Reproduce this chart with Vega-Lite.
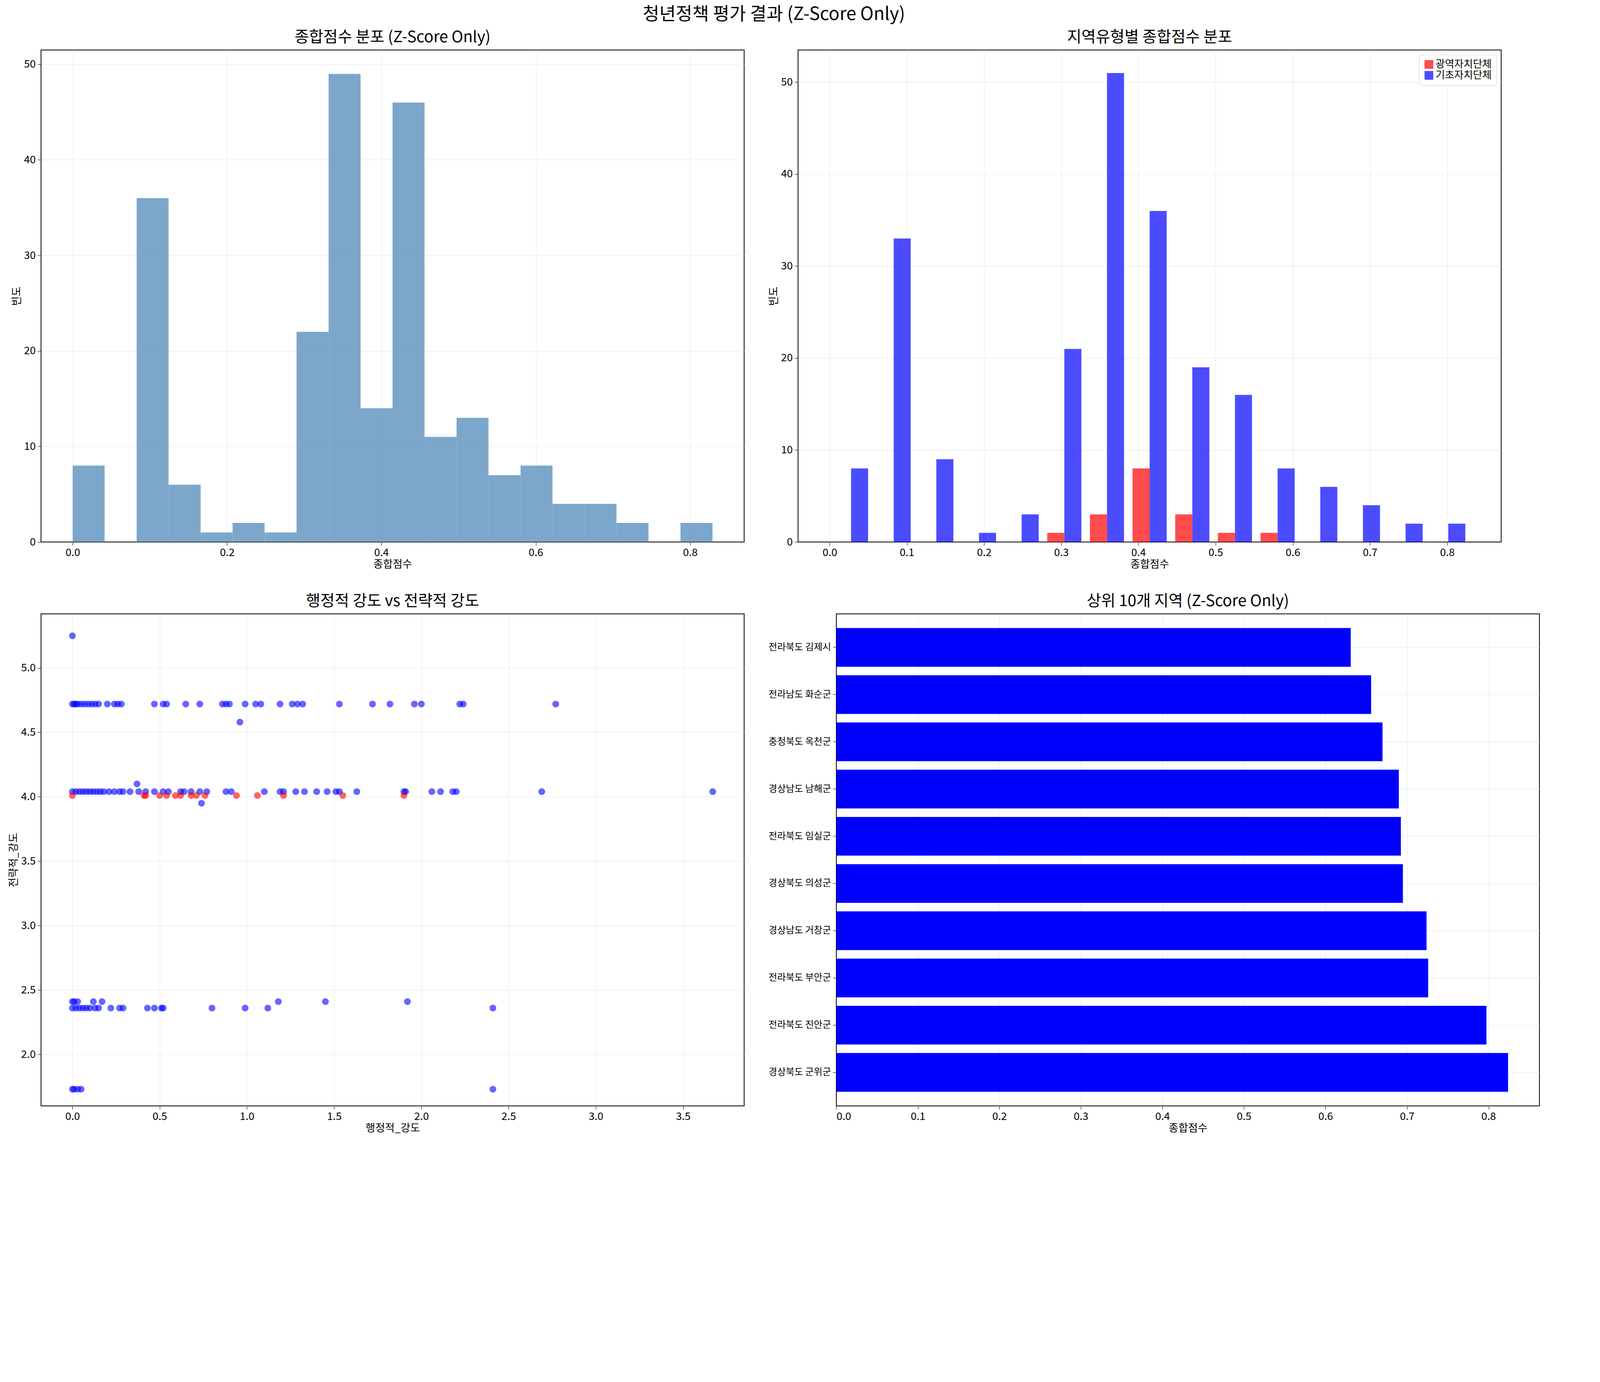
{
  "$schema": "https://vega.github.io/schema/vega-lite/v6.json",
  "background": "white",
  "padding": {"left": 20, "top": 14, "right": 20, "bottom": 20},
  "title": {"text": "청년정책 평가 결과 (Z-Score Only)", "fontSize": 46, "font": "Noto Sans CJK KR", "fontWeight": "normal", "anchor": "middle", "offset": 14},
  "config": {
    "font": "Noto Sans CJK KR",
    "axis": {"labelFontSize": 27, "titleFontSize": 27, "titleFontWeight": "normal", "gridColor": "#e6e6e6", "domainColor": "black", "tickColor": "black", "labelColor": "black", "titleColor": "black", "tickSize": 9, "labelPadding": 5, "labelLimit": 0},
    "title": {"fontSize": 40, "fontWeight": "normal", "offset": 12},
    "view": {"stroke": "black", "strokeWidth": 2},
    "concat": {"spacing": 60}
  },
  "datasets": {
    "hist": [
      {"s": 0.0, "e": 0.0414, "n": 8}, {"s": 0.0414, "e": 0.0829, "n": 0}, {"s": 0.0829, "e": 0.1243, "n": 36},
      {"s": 0.1243, "e": 0.1658, "n": 6}, {"s": 0.1658, "e": 0.2072, "n": 1}, {"s": 0.2072, "e": 0.2487, "n": 2},
      {"s": 0.2487, "e": 0.2901, "n": 1}, {"s": 0.2901, "e": 0.3316, "n": 22}, {"s": 0.3316, "e": 0.373, "n": 49},
      {"s": 0.373, "e": 0.4145, "n": 14}, {"s": 0.4145, "e": 0.4559, "n": 46}, {"s": 0.4559, "e": 0.4974, "n": 11},
      {"s": 0.4974, "e": 0.5388, "n": 13}, {"s": 0.5388, "e": 0.5803, "n": 7}, {"s": 0.5803, "e": 0.6217, "n": 8},
      {"s": 0.6217, "e": 0.6632, "n": 4}, {"s": 0.6632, "e": 0.7046, "n": 4}, {"s": 0.7046, "e": 0.7461, "n": 2},
      {"s": 0.7461, "e": 0.7875, "n": 0}, {"s": 0.7875, "e": 0.829, "n": 2}
    ],
    "group": [
      {"bin": 0, "t": "기초자치단체", "n": 8}, {"bin": 1, "t": "기초자치단체", "n": 33}, {"bin": 2, "t": "기초자치단체", "n": 9},
      {"bin": 3, "t": "기초자치단체", "n": 1}, {"bin": 4, "t": "기초자치단체", "n": 3}, {"bin": 5, "t": "기초자치단체", "n": 21},
      {"bin": 6, "t": "기초자치단체", "n": 51}, {"bin": 7, "t": "기초자치단체", "n": 36}, {"bin": 8, "t": "기초자치단체", "n": 19},
      {"bin": 9, "t": "기초자치단체", "n": 16}, {"bin": 10, "t": "기초자치단체", "n": 8}, {"bin": 11, "t": "기초자치단체", "n": 6},
      {"bin": 12, "t": "기초자치단체", "n": 4}, {"bin": 13, "t": "기초자치단체", "n": 2}, {"bin": 14, "t": "기초자치단체", "n": 2},
      {"bin": 5, "t": "광역자치단체", "n": 1}, {"bin": 6, "t": "광역자치단체", "n": 3}, {"bin": 7, "t": "광역자치단체", "n": 8},
      {"bin": 8, "t": "광역자치단체", "n": 3}, {"bin": 9, "t": "광역자치단체", "n": 1}, {"bin": 10, "t": "광역자치단체", "n": 1}
    ],
    "scatter": [
      {"x": 0.0, "y": 5.25, "t": "b"}, {"x": 0.96, "y": 4.58, "t": "b"}, {"x": 0.37, "y": 4.1, "t": "b"}, {"x": 0.74, "y": 3.95, "t": "b"},
      {"x": 0.0, "y": 4.72, "t": "b"}, {"x": 0.01, "y": 4.72, "t": "b"}, {"x": 0.02, "y": 4.72, "t": "b"}, {"x": 0.03, "y": 4.72, "t": "b"},
      {"x": 0.05, "y": 4.72, "t": "b"}, {"x": 0.07, "y": 4.72, "t": "b"}, {"x": 0.09, "y": 4.72, "t": "b"}, {"x": 0.11, "y": 4.72, "t": "b"},
      {"x": 0.13, "y": 4.72, "t": "b"}, {"x": 0.15, "y": 4.72, "t": "b"}, {"x": 0.2, "y": 4.72, "t": "b"}, {"x": 0.24, "y": 4.72, "t": "b"},
      {"x": 0.26, "y": 4.72, "t": "b"}, {"x": 0.28, "y": 4.72, "t": "b"}, {"x": 0.47, "y": 4.72, "t": "b"}, {"x": 0.52, "y": 4.72, "t": "b"},
      {"x": 0.54, "y": 4.72, "t": "b"}, {"x": 0.65, "y": 4.72, "t": "b"}, {"x": 0.73, "y": 4.72, "t": "b"}, {"x": 0.86, "y": 4.72, "t": "b"},
      {"x": 0.88, "y": 4.72, "t": "b"}, {"x": 0.9, "y": 4.72, "t": "b"}, {"x": 0.99, "y": 4.72, "t": "b"}, {"x": 1.05, "y": 4.72, "t": "b"},
      {"x": 1.08, "y": 4.72, "t": "b"}, {"x": 1.19, "y": 4.72, "t": "b"}, {"x": 1.26, "y": 4.72, "t": "b"}, {"x": 1.29, "y": 4.72, "t": "b"},
      {"x": 1.32, "y": 4.72, "t": "b"}, {"x": 1.53, "y": 4.72, "t": "b"}, {"x": 1.72, "y": 4.72, "t": "b"}, {"x": 1.82, "y": 4.72, "t": "b"},
      {"x": 1.96, "y": 4.72, "t": "b"}, {"x": 2.0, "y": 4.72, "t": "b"}, {"x": 2.22, "y": 4.72, "t": "b"}, {"x": 2.24, "y": 4.72, "t": "b"},
      {"x": 2.77, "y": 4.72, "t": "b"},
      {"x": 0.0, "y": 4.04, "t": "b"}, {"x": 0.02, "y": 4.04, "t": "b"}, {"x": 0.04, "y": 4.04, "t": "b"}, {"x": 0.06, "y": 4.04, "t": "b"},
      {"x": 0.08, "y": 4.04, "t": "b"}, {"x": 0.1, "y": 4.04, "t": "b"}, {"x": 0.12, "y": 4.04, "t": "b"}, {"x": 0.14, "y": 4.04, "t": "b"},
      {"x": 0.16, "y": 4.04, "t": "b"}, {"x": 0.18, "y": 4.04, "t": "b"}, {"x": 0.21, "y": 4.04, "t": "b"}, {"x": 0.24, "y": 4.04, "t": "b"},
      {"x": 0.27, "y": 4.04, "t": "b"}, {"x": 0.29, "y": 4.04, "t": "b"}, {"x": 0.33, "y": 4.04, "t": "b"}, {"x": 0.38, "y": 4.04, "t": "b"},
      {"x": 0.42, "y": 4.04, "t": "b"}, {"x": 0.47, "y": 4.04, "t": "b"}, {"x": 0.52, "y": 4.04, "t": "b"}, {"x": 0.55, "y": 4.04, "t": "b"},
      {"x": 0.62, "y": 4.04, "t": "b"}, {"x": 0.64, "y": 4.04, "t": "b"}, {"x": 0.68, "y": 4.04, "t": "b"}, {"x": 0.73, "y": 4.04, "t": "b"},
      {"x": 0.77, "y": 4.04, "t": "b"}, {"x": 0.88, "y": 4.04, "t": "b"}, {"x": 0.91, "y": 4.04, "t": "b"}, {"x": 1.1, "y": 4.04, "t": "b"},
      {"x": 1.19, "y": 4.04, "t": "b"}, {"x": 1.21, "y": 4.04, "t": "b"}, {"x": 1.28, "y": 4.04, "t": "b"}, {"x": 1.33, "y": 4.04, "t": "b"},
      {"x": 1.4, "y": 4.04, "t": "b"}, {"x": 1.46, "y": 4.04, "t": "b"}, {"x": 1.51, "y": 4.04, "t": "b"}, {"x": 1.53, "y": 4.04, "t": "b"},
      {"x": 1.63, "y": 4.04, "t": "b"}, {"x": 1.9, "y": 4.04, "t": "b"}, {"x": 1.91, "y": 4.04, "t": "b"}, {"x": 2.06, "y": 4.04, "t": "b"},
      {"x": 2.11, "y": 4.04, "t": "b"}, {"x": 2.18, "y": 4.04, "t": "b"}, {"x": 2.2, "y": 4.04, "t": "b"}, {"x": 2.69, "y": 4.04, "t": "b"},
      {"x": 3.67, "y": 4.04, "t": "b"},
      {"x": 0.0, "y": 4.01, "t": "r"}, {"x": 0.41, "y": 4.01, "t": "r"}, {"x": 0.42, "y": 4.01, "t": "r"}, {"x": 0.5, "y": 4.01, "t": "r"},
      {"x": 0.54, "y": 4.01, "t": "r"}, {"x": 0.59, "y": 4.01, "t": "r"}, {"x": 0.62, "y": 4.01, "t": "r"}, {"x": 0.68, "y": 4.01, "t": "r"},
      {"x": 0.71, "y": 4.01, "t": "r"}, {"x": 0.76, "y": 4.01, "t": "r"}, {"x": 0.94, "y": 4.01, "t": "r"}, {"x": 1.06, "y": 4.01, "t": "r"},
      {"x": 1.21, "y": 4.01, "t": "r"}, {"x": 1.55, "y": 4.01, "t": "r"}, {"x": 1.9, "y": 4.01, "t": "r"},
      {"x": 0.0, "y": 2.36, "t": "b"}, {"x": 0.02, "y": 2.36, "t": "b"}, {"x": 0.04, "y": 2.36, "t": "b"}, {"x": 0.06, "y": 2.36, "t": "b"},
      {"x": 0.08, "y": 2.36, "t": "b"}, {"x": 0.1, "y": 2.36, "t": "b"}, {"x": 0.13, "y": 2.36, "t": "b"}, {"x": 0.15, "y": 2.36, "t": "b"},
      {"x": 0.22, "y": 2.36, "t": "b"}, {"x": 0.27, "y": 2.36, "t": "b"}, {"x": 0.29, "y": 2.36, "t": "b"}, {"x": 0.43, "y": 2.36, "t": "b"},
      {"x": 0.47, "y": 2.36, "t": "b"}, {"x": 0.51, "y": 2.36, "t": "b"}, {"x": 0.52, "y": 2.36, "t": "b"}, {"x": 0.8, "y": 2.36, "t": "b"},
      {"x": 0.99, "y": 2.36, "t": "b"}, {"x": 1.12, "y": 2.36, "t": "b"}, {"x": 2.41, "y": 2.36, "t": "b"},
      {"x": 0.0, "y": 2.41, "t": "b"}, {"x": 0.01, "y": 2.41, "t": "b"}, {"x": 0.03, "y": 2.41, "t": "b"}, {"x": 0.12, "y": 2.41, "t": "b"},
      {"x": 0.17, "y": 2.41, "t": "b"}, {"x": 1.18, "y": 2.41, "t": "b"}, {"x": 1.45, "y": 2.41, "t": "b"}, {"x": 1.92, "y": 2.41, "t": "b"},
      {"x": 0.0, "y": 1.73, "t": "b"}, {"x": 0.01, "y": 1.73, "t": "b"}, {"x": 0.03, "y": 1.73, "t": "b"}, {"x": 0.05, "y": 1.73, "t": "b"},
      {"x": 2.41, "y": 1.73, "t": "b"}
    ],
    "top10": [
      {"r": "전라북도 김제시", "v": 0.631}, {"r": "전라남도 화순군", "v": 0.656}, {"r": "충청북도 옥천군", "v": 0.67},
      {"r": "경상남도 남해군", "v": 0.69}, {"r": "전라북도 임실군", "v": 0.6925}, {"r": "경상북도 의성군", "v": 0.695},
      {"r": "경상남도 거창군", "v": 0.724}, {"r": "전라북도 부안군", "v": 0.726}, {"r": "전라북도 진안군", "v": 0.7975},
      {"r": "경상북도 군위군", "v": 0.824}
    ]
  },
  "resolve": {"scale": {"color": "independent"}},
  "vconcat": [
    {
      "resolve": {"scale": {"color": "independent"}},
      "hconcat": [
        {
          "title": "종합점수 분포 (Z-Score Only)",
          "width": 1800, "height": 1260,
          "data": {"name": "hist"},
          "mark": {"type": "bar", "color": "steelblue", "opacity": 0.7},
          "encoding": {
            "x": {"field": "s", "type": "quantitative", "title": "종합점수", "scale": {"domain": [-0.041, 0.87], "nice": false}, "axis": {"values": [0, 0.2, 0.4, 0.6, 0.8], "format": ".1f"}},
            "x2": {"field": "e"},
            "y": {"field": "n", "type": "quantitative", "title": "빈도", "scale": {"domain": [0, 51.5], "nice": false}, "axis": {"values": [0, 10, 20, 30, 40, 50]}},
            "y2": {"datum": 0}
          }
        },
        {
          "title": "지역유형별 종합점수 분포",
          "width": 1800, "height": 1260,
          "data": {"name": "group"},
          "transform": [
            {"calculate": "datum.t == '광역자치단체' ? (datum.bin + 0.1) * 0.05527 : (datum.bin + 0.5) * 0.05527", "as": "x0"},
            {"calculate": "datum.x0 + 0.4 * 0.05527", "as": "x1"}
          ],
          "mark": {"type": "bar", "opacity": 0.7},
          "encoding": {
            "x": {"field": "x0", "type": "quantitative", "title": "종합점수", "scale": {"domain": [-0.041, 0.87], "nice": false}, "axis": {"values": [0, 0.1, 0.2, 0.3, 0.4, 0.5, 0.6, 0.7, 0.8], "format": ".1f"}},
            "x2": {"field": "x1"},
            "y": {"field": "n", "type": "quantitative", "title": "빈도", "scale": {"domain": [0, 53.5], "nice": false}, "axis": {"values": [0, 10, 20, 30, 40, 50]}},
            "y2": {"datum": 0},
            "color": {"field": "t", "type": "nominal", "scale": {"domain": ["광역자치단체", "기초자치단체"], "range": ["red", "blue"]},
              "legend": {"title": null, "orient": "top-right", "labelFontSize": 26, "symbolType": "square", "symbolSize": 500, "symbolOpacity": 0.7, "strokeColor": "#cccccc", "fillColor": "white", "padding": 12, "cornerRadius": 5, "offset": 12, "labelLimit": 0}}
          }
        }
      ]
    },
    {
      "resolve": {"scale": {"color": "independent"}},
      "hconcat": [
        {
          "title": "행정적 강도 vs 전략적 강도",
          "width": 1800, "height": 1260,
          "data": {"name": "scatter"},
          "mark": {"type": "circle", "size": 300, "opacity": 0.6},
          "encoding": {
            "x": {"field": "x", "type": "quantitative", "title": "행정적_강도", "scale": {"domain": [-0.18, 3.85], "nice": false}, "axis": {"values": [0, 0.5, 1, 1.5, 2, 2.5, 3, 3.5], "format": ".1f"}},
            "y": {"field": "y", "type": "quantitative", "title": "전략적_강도", "scale": {"domain": [1.6, 5.42], "nice": false}, "axis": {"values": [2, 2.5, 3, 3.5, 4, 4.5, 5], "format": ".1f"}},
            "color": {"field": "t", "type": "nominal", "scale": {"domain": ["r", "b"], "range": ["red", "blue"]}, "legend": null}
          }
        },
        {
          "title": "상위 10개 지역 (Z-Score Only)",
          "width": 1800, "height": 1260,
          "data": {"name": "top10"},
          "mark": {"type": "bar", "color": "blue"},
          "encoding": {
            "x": {"field": "v", "type": "quantitative", "title": "종합점수", "scale": {"domain": [0, 0.8625], "nice": false}, "axis": {"values": [0, 0.1, 0.2, 0.3, 0.4, 0.5, 0.6, 0.7, 0.8], "format": ".1f", "grid": true}},
            "y": {"field": "r", "type": "nominal", "title": null, "sort": null, "scale": {"paddingInner": 0.18, "paddingOuter": 0.3}, "axis": {"labelFontSize": 24, "grid": true}}
          }
        }
      ]
    }
  ]
}
